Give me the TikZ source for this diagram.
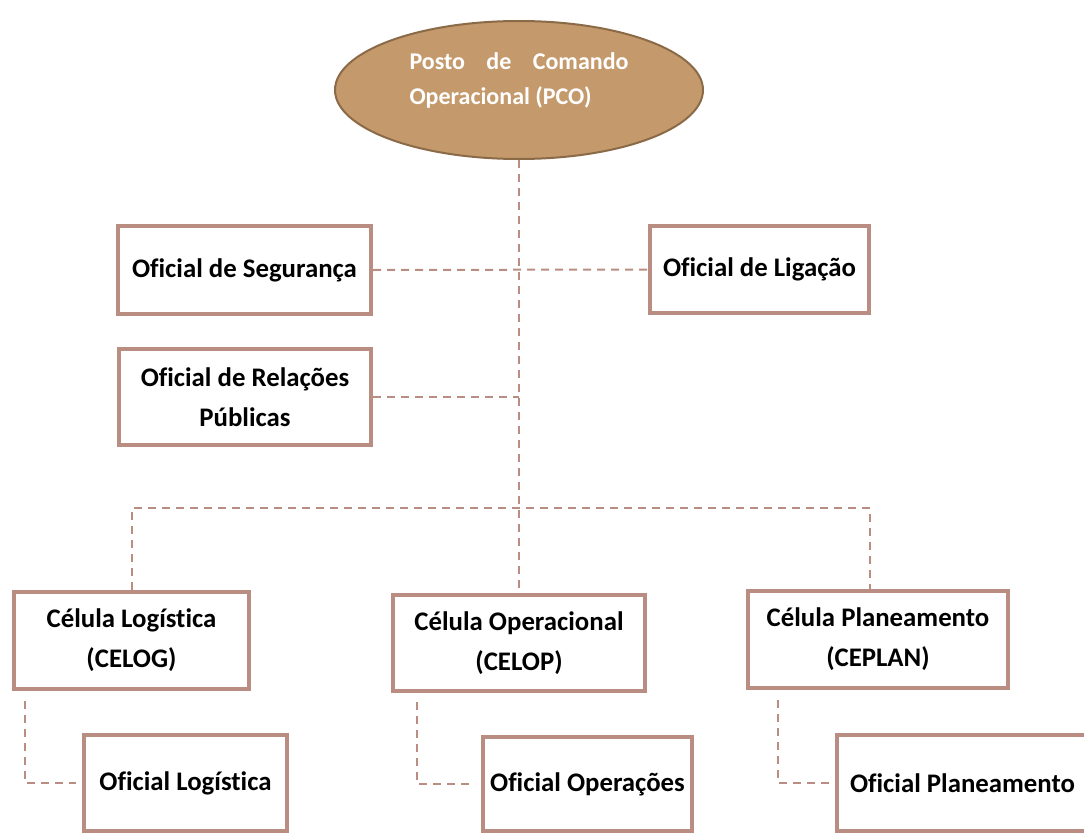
\documentclass[tikz,border=0pt]{standalone}
\usepackage{fontspec}
\setmainfont{Carlito}[Ligatures=NoCommon]
\usepackage{xcolor}
\usepackage{tikz}
\usetikzlibrary{shapes.geometric,positioning}
\definecolor{boxrose}{HTML}{B98D82}
\definecolor{pcofill}{HTML}{C4996B}
\definecolor{pcoedge}{HTML}{8B6A48}

\begin{document}
\begin{tikzpicture}[x=1pt, y=-1pt,
cell/.style={rectangle, draw=boxrose, line width=4pt, fill=white, align=center, inner sep=4pt, font=\bfseries\fontsize{26.8}{40}\selectfont},
command/.style={ellipse, draw=pcoedge, line width=2pt, fill=pcofill, text=white, minimum width=368pt, minimum height=138pt, font=\bfseries\fontsize{24}{35}\selectfont},
link/.style={draw=boxrose, line width=2pt, dash pattern=on 8pt off 6pt}]
\clip (0,0) rectangle (1084,835);

% Command post

\node [command] (pco) at (519,90)
{\parbox{219pt}{\makebox[219pt][s]{Posto de Comando}\\Operacional (PCO)\par\vspace{20pt}}};

% Staff officers

\node [cell, minimum width=253pt, minimum height=88pt] (seg) at (244.5,270) {Oficial de Segurança};
\node [cell, minimum width=219pt, minimum height=87pt] (lig) at (759.5,269.5) {Oficial de Ligação};
\node [cell, minimum width=252pt, minimum height=96pt] (rp) at (245,397) {Oficial de Relações\\Públicas};

% Cells

\node [cell, minimum width=235pt, minimum height=97pt] (celog) at (131.5,640.5) {Célula Logística\\(CELOG)};
\node [cell, minimum width=252pt, minimum height=96pt] (celop) at (519,643) {Célula Operacional\\(CELOP)};
\node [cell, minimum width=260pt, minimum height=97pt] (ceplan) at (878,639.5) {Célula Planeamento\\(CEPLAN)};

% Cell officers

\node [cell, minimum width=203pt, minimum height=96pt, below right=42pt and 70pt of celog.south west] (oflog) {Oficial Logística};
\node [cell, minimum width=209pt, minimum height=94pt, below right=42pt and 90pt of celop.south west] (ofop) {Oficial Operações};
\node [cell, minimum width=251pt, minimum height=96pt, below right=43pt and 89pt of ceplan.south west] (ofplan) {Oficial Planeamento};

% Links

\coordinate (bus) at (519,508);
\draw[link] (pco.south) -- (celop.north);
\draw[link] (seg.east) -- (lig.west);
\draw[link] (rp.east) -- (rp.east -| pco.south);
\draw[link] (celog.north) |- (bus) -| ([xshift=-8pt]ceplan.north);
\draw[link, shorten >=6pt] ([xshift=13pt, yshift=-10pt]celog.south west) |- (oflog.west);
\draw[link, shorten >=6pt] ([xshift=26pt, yshift=-9pt]celop.south west) |- (ofop.west);
\draw[link, shorten >=6pt] ([xshift=32pt, yshift=-10pt]ceplan.south west) |- (ofplan.west);
\end{tikzpicture}
\end{document}
